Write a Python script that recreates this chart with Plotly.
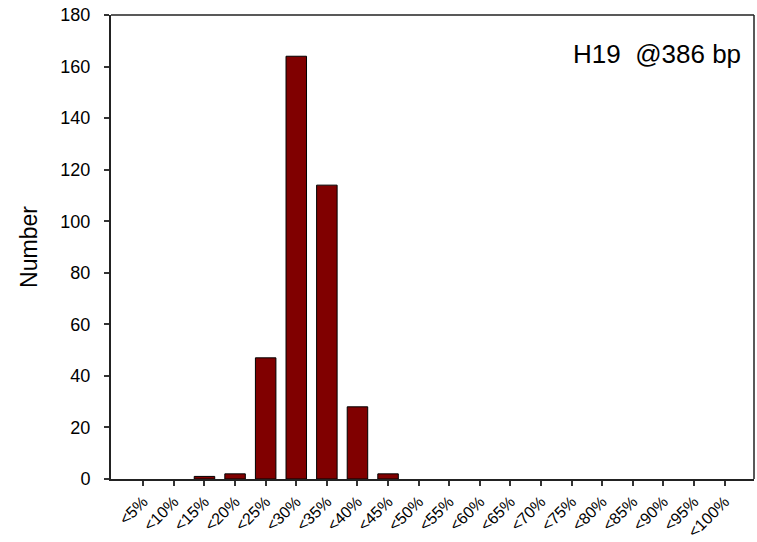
import plotly.graph_objects as go

# Histogram of bin counts
categories = ["<5%", "<10%", "<15%", "<20%", "<25%", "<30%", "<35%", "<40%", "<45%", "<50%",
              "<55%", "<60%", "<65%", "<70%", "<75%", "<80%", "<85%", "<90%", "<95%", "<100%"]
counts = [0, 0, 1, 2, 47, 164, 114, 28, 2, 0, 0, 0, 0, 0, 0, 0, 0, 0, 0, 0]
y_ticks = [0, 20, 40, 60, 80, 100, 120, 140, 160, 180]
annotation_text = "H19  @386 bp"

x_idx = list(range(len(categories)))
# empty bins get no outline so nothing is drawn for them
outline_widths = [1 if c > 0 else 0 for c in counts]

fig = go.Figure()
fig.add_trace(go.Bar(
    x=x_idx,
    y=counts,
    width=0.67,
    marker=dict(color="#800000", line=dict(color="black", width=outline_widths)),
))

font_family = "Liberation Sans, Arial, sans-serif"

fig.update_layout(
    width=757,
    height=542,
    margin=dict(l=111, r=3, t=15, b=63),
    paper_bgcolor="white",
    plot_bgcolor="white",
    showlegend=False,
    font=dict(family=font_family, color="black", size=18),
    xaxis=dict(
        range=[-1.055, 19.96],
        tickmode="array",
        tickvals=x_idx,
        ticktext=categories,
        tickangle=-45,
        ticks="outside",
        ticklen=5,
        tickwidth=1.5,
        tickcolor="#333333",
        showline=True,
        linecolor="#222222",
        linewidth=2,
        showgrid=False,
        zeroline=False,
        tickfont=dict(size=16),
        automargin=False,
    ),
    yaxis=dict(
        range=[0, 180],
        tickmode="array",
        tickvals=y_ticks,
        ticks="outside",
        ticklen=5,
        tickwidth=1.5,
        tickcolor="#333333",
        ticklabelstandoff=10,
        showline=True,
        linecolor="#222222",
        linewidth=2,
        showgrid=False,
        zeroline=False,
        tickfont=dict(size=18),
        title=dict(text="Number", font=dict(size=23), standoff=16),
        automargin=False,
    ),
    shapes=[
        dict(type="line", xref="paper", yref="paper", x0=0, x1=1, y0=1, y1=1,
             line=dict(color="#222222", width=1.5)),
        dict(type="line", xref="paper", yref="paper", x0=1, x1=1, y0=0, y1=1,
             line=dict(color="#222222", width=1.5)),
    ],
    annotations=[
        dict(text=annotation_text, xref="paper", yref="paper", x=0.983, y=0.915,
             xanchor="right", yanchor="middle", showarrow=False,
             font=dict(size=26, family=font_family, color="black")),
    ],
)

fig.write_html("out.html")
